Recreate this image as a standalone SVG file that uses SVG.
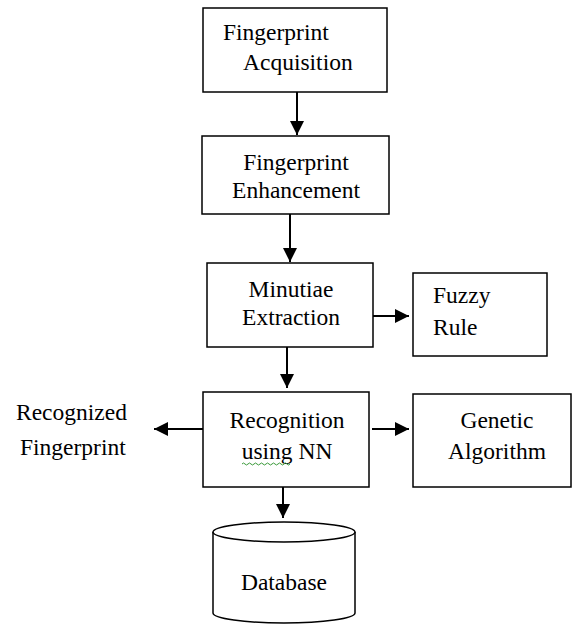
<svg xmlns="http://www.w3.org/2000/svg" width="574" height="626" viewBox="0 0 574 626">
<style>
.box{fill:#fff;stroke:#000;stroke-width:1.5}
.t{font-family:"Liberation Serif","Times New Roman","DejaVu Serif",serif;font-size:23.5px;fill:#000}
.c{text-anchor:middle}
.ln{stroke:#000;stroke-width:2;fill:none}
</style>
<defs>
<marker id="ah" viewBox="0 0 14 14" refX="14" refY="7" markerWidth="14" markerHeight="14" markerUnits="userSpaceOnUse" orient="auto">
<path d="M0,0 L14,7 L0,14 Z" fill="#000"/>
</marker>
</defs>
<rect width="574" height="626" fill="#fff"/>
<g id="connectors">
<line class="ln" x1="297" y1="92" x2="297" y2="135" marker-end="url(#ah)"/>
<line class="ln" x1="290" y1="214" x2="290" y2="262" marker-end="url(#ah)"/>
<line class="ln" x1="372" y1="316" x2="409" y2="316" marker-end="url(#ah)"/>
<line class="ln" x1="287" y1="347" x2="287" y2="388" marker-end="url(#ah)"/>
<line class="ln" x1="203" y1="429" x2="154" y2="429" marker-end="url(#ah)"/>
<line class="ln" x1="372" y1="429" x2="409" y2="429" marker-end="url(#ah)"/>
<line class="ln" x1="283" y1="487" x2="283" y2="518" marker-end="url(#ah)"/>
</g>
<g id="acquisition">
<rect class="box" x="203" y="8" width="184" height="84"/>
<text class="t" x="223" y="40">Fingerprint</text>
<text class="t" x="243" y="70">Acquisition</text>
</g>
<g id="enhancement">
<rect class="box" x="202" y="136" width="187" height="78"/>
<text class="t c" x="296" y="170">Fingerprint</text>
<text class="t c" x="296" y="198">Enhancement</text>
</g>
<g id="minutiae">
<rect class="box" x="207" y="263" width="166" height="84"/>
<text class="t c" x="291" y="297">Minutiae</text>
<text class="t c" x="291" y="325">Extraction</text>
</g>
<g id="fuzzy">
<rect class="box" x="413" y="273" width="134" height="83"/>
<text class="t" x="433" y="303">Fuzzy</text>
<text class="t" x="433" y="335">Rule</text>
</g>
<g id="recognition">
<rect class="box" x="203" y="392" width="166" height="95"/>
<text class="t c" x="287" y="428">Recognition</text>
<text class="t c" x="287" y="459">using NN</text>
<path d="M242,464 q1.5,-2 3,0 t3,0 t3,0 t3,0 t3,0 t3,0 t3,0 t3,0 t3,0 t3,0 t3,0 t3,0 t3,0 t3,0 t3,0 t3,0" fill="none" stroke="#3a9a3a" stroke-width="1"/>
</g>
<g id="recognized">
<text class="t" x="16" y="420">Recognized</text>
<text class="t" x="20" y="455">Fingerprint</text>
</g>
<g id="genetic">
<rect class="box" x="413" y="394" width="158" height="93"/>
<text class="t c" x="497" y="428">Genetic</text>
<text class="t c" x="497" y="459">Algorithm</text>
</g>
<g id="database">
<path class="box" d="M213,532 L213,613 A71,10 0 0 0 355,613 L355,532"/>
<ellipse class="box" cx="284" cy="532" rx="71" ry="10"/>
<text class="t c" x="284" y="590">Database</text>
</g>
</svg>
